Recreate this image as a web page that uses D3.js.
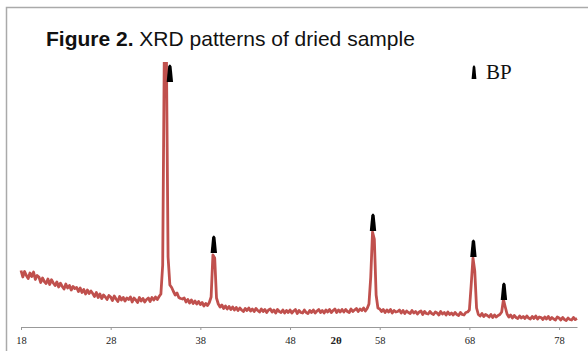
<!DOCTYPE html>
<html>
<head>
<meta charset="utf-8">
<script src="https://cdn.jsdelivr.net/npm/d3@7"></script>
<style>
    body { margin: 0; background: #fff; }
    svg { display: block; }
    .title { font-family: "Liberation Sans", Arial, sans-serif; font-size: 21px; fill: #111; }
    .tick text { font-family: "Liberation Serif", "Times New Roman", serif; font-size: 10.5px; fill: #222; }
    .axis path, .axis line { stroke: #999; }
</style>
</head>
<body>
<svg id="chart" width="588" height="351"></svg>
<script>
// XRD scan: 2θ from 18° to 80° in 0.2° steps, intensities
const thetaStart = 18;
const thetaStep = 0.2;
const intensity = [
    565, 500, 555, 515, 485, 540, 505, 550, 475, 515,
    500, 445, 490, 455, 435, 480, 425, 472, 440, 415,
    450, 400, 438, 405, 380, 430, 390, 415, 370, 405,
    385, 395, 355, 390, 345, 375, 330, 370, 335, 360,
    335, 305, 345, 295, 330, 285, 320, 300, 275, 315,
    300, 265, 310, 280, 255, 305, 270, 295, 260, 290,
    275, 300, 250, 290, 270, 245, 295, 260, 285, 250,
    275, 290, 255, 295, 270, 300, 275, 305, 330, 620,
    3000, 2900, 700, 420, 395, 355, 320, 340, 295, 285,
    280, 290, 250, 275, 240, 270, 235, 260, 230, 255,
    225, 245, 210, 235, 215, 245, 300, 720, 690, 290,
    230, 200, 220, 185, 210, 180, 205, 175, 200, 170,
    195, 165, 190, 170, 155, 185, 165, 190, 160, 180,
    155, 185, 165, 150, 180, 155, 175, 145, 170, 180,
    150, 170, 140, 175, 155, 145, 170, 140, 165, 145,
    170, 140, 160, 175, 135, 165, 145, 140, 170, 145,
    135, 165, 145, 170, 140, 160, 175, 145, 165, 140,
    170, 150, 175, 145, 165, 180, 145, 170, 150, 175,
    150, 175, 155, 145, 180, 155, 170, 185, 155, 180,
    165, 190, 160, 185, 230, 500, 950, 880, 320, 190,
    180, 155, 175, 145, 170, 150, 175, 140, 165, 150,
    155, 170, 140, 165, 135, 160, 145, 135, 165, 140,
    155, 130, 150, 160, 125, 155, 135, 130, 155, 135,
    125, 150, 140, 120, 155, 130, 145, 120, 150, 125,
    140, 120, 145, 125, 115, 145, 125, 120, 145, 150,
    170, 420, 690, 560, 190, 125, 110, 135, 105, 125,
    115, 100, 125, 95, 120, 100, 115, 125, 150, 275,
    200, 130, 100, 120, 90, 115, 95, 85, 110, 90,
    105, 85, 110, 90, 80, 105, 85, 110, 80, 100,
    95, 75, 100, 80, 105, 75, 95, 80, 70, 100,
    90, 70, 95, 75, 65, 90, 75, 70, 95, 75,
    85
];

// BP reflections (marker position and peak height)
const peakTheta = [34.6, 39.5, 57.25, 68.45, 71.85];
const peakTop = [2440, 730, 950, 690, 260];

const xTicks = [18, 28, 38, 48, 58, 68, 78];

const svg = d3.select("#chart");
const W = 588, H = 351;

// frame around the figure
svg.append("path")
    .attr("d", `M6.5,${H} V7.5 H${W}`)
    .attr("fill", "none")
    .attr("stroke", "#aaa")
    .attr("stroke-width", 1.5);

svg.append("text")
    .attr("class", "title")
    .attr("x", 46)
    .attr("y", 46)
    .html('<tspan font-weight="bold">Figure 2.</tspan> XRD patterns of dried sample');

const x = d3.scaleLinear().domain([18, 80]).range([21, 577]);
const y = d3.scaleLinear().domain([0, 2650]).range([327, 62]);

const data = intensity.map((v, i) => ({ t: thetaStart + i * thetaStep, v }));

svg.append("clipPath").attr("id", "plot-clip")
    .append("rect")
    .attr("x", 15).attr("y", 62)
    .attr("width", 570).attr("height", 270);

svg.append("path")
    .datum(data)
    .attr("clip-path", "url(#plot-clip)")
    .attr("fill", "none")
    .attr("stroke", "#c0504d")
    .attr("stroke-width", 2.8)
    .attr("stroke-linejoin", "round")
    .attr("d", d3.line().x(d => x(d.t)).y(d => y(d.v)));

// x axis
const axis = svg.append("g")
    .attr("class", "axis")
    .attr("transform", "translate(0,327)")
    .call(d3.axisBottom(x).tickValues(xTicks).tickSize(3).tickSizeOuter(0).tickPadding(5));
axis.selectAll(".tick text").attr("dy", "0.9em");

svg.append("text")
    .attr("x", 336)
    .attr("y", 344)
    .attr("text-anchor", "middle")
    .attr("font-family", "Liberation Serif, serif")
    .attr("font-weight", "bold")
    .attr("font-size", 11)
    .attr("fill", "#222")
    .text("2θ");

// tapered black markers
const markerPath = "M-3.2,0 L-1.7,-15.5 Q0,-19.5 1.7,-15.5 L3.2,0 Z";

svg.selectAll(".marker")
    .data(peakTheta.map((t, i) => ({ t, v: peakTop[i] })))
    .join("path")
    .attr("class", "marker")
    .attr("d", markerPath)
    .attr("fill", "#000")
    .attr("transform", d => `translate(${x(d.t)},${y(d.v) - 1})`);

// legend
svg.append("path")
    .attr("d", "M-2.4,0 L-1.3,-12 Q0,-15.5 1.3,-12 L2.4,0 Z")
    .attr("fill", "#000")
    .attr("transform", "translate(474,79)");

svg.append("text")
    .attr("x", 486)
    .attr("y", 79)
    .attr("font-family", "Liberation Serif, serif")
    .attr("font-size", 21)
    .attr("fill", "#111")
    .text("BP");
</script>
</body>
</html>
